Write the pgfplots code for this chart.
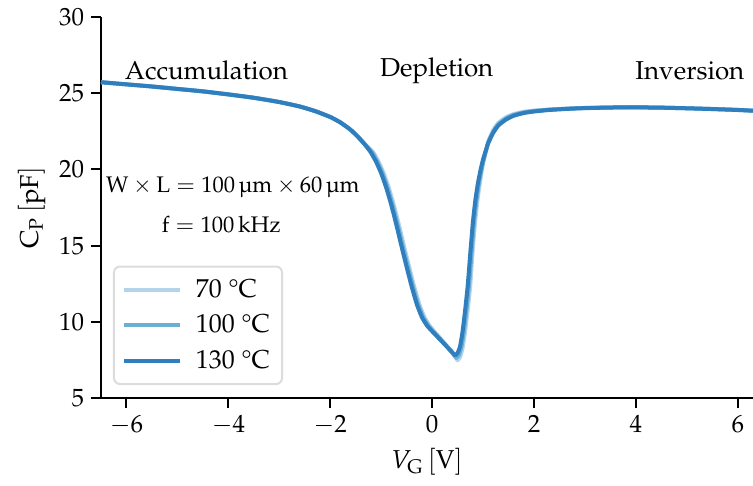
\documentclass[border=0pt]{standalone}
\usepackage[T1]{fontenc}
\usepackage{mathpazo}
\usepackage{textcomp}
\usepackage{pgfplots}
\pgfplotsset{compat=1.18}
\definecolor{c70}{RGB}{180,212,236}
\definecolor{c100}{RGB}{107,174,214}
\definecolor{c130}{RGB}{47,127,190}
\definecolor{legframe}{RGB}{220,220,220}
\newcommand{\fs}{\fontsize{12.5}{15}\selectfont}
\newcommand{\ft}{\fontsize{13}{15.5}\selectfont}
\newcommand{\fa}{\fontsize{11.3}{13.5}\selectfont}
\begin{document}
\begin{tikzpicture}
\begin{axis}[
  name=ax,
  scale only axis, width=326bp, height=190.5bp,
  xmin=-6.5, xmax=6.3, ymin=5, ymax=30,
  axis x line*=bottom, axis y line*=left,
  axis line style={-, line width=1bp, black},
  xtick={-6,-4,...,6}, ytick={5,10,...,30},
  tick align=outside, major tick length=5bp,
  every tick/.style={black, line width=1bp},
  tick label style={font=\fs},
  label style={font=\ft},
  xlabel={$V_\mathrm{G}\,[\mathrm{V}]$},
  ylabel={$\mathrm{C}_\mathrm{P}\,[\mathrm{pF}]$},
  legend cell align=left,
  legend style={font=\ft, at={(0.0184,0.034)}, anchor=south west,
    draw=legframe, line width=1bp, rounded corners=3bp, fill=white,
    inner xsep=4bp, inner ysep=4.5bp, row sep=3.2bp, column sep=5bp},
  legend image code/.code={\draw[#1, line width=2bp] (0bp,0bp) -- (28bp,0bp);},
]
\addplot[c70, line width=2bp, line join=round, smooth, tension=0.3] coordinates {
(-6.5,25.72) (-6.0,25.58) (-5.5,25.44) (-5.0,25.28) (-4.5,25.12) (-4.0,24.92)
(-3.5,24.70) (-3.0,24.42) (-2.6,24.13) (-2.3,23.83) (-2.0,23.44) (-1.8,23.08)
(-1.6,22.6) (-1.45,22.13) (-1.3,21.6) (-1.15,21.1) (-1.05,20.5) (-0.95,19.75)
(-0.85,18.8) (-0.75,17.65) (-0.65,16.35) (-0.55,14.95) (-0.45,13.6) (-0.35,12.3)
(-0.25,11.15) (-0.15,10.3) (-0.05,9.75) (0.05,9.34) (0.15,8.97) (0.25,8.58)
(0.35,8.18) (0.45,7.75) (0.5,7.47) (0.55,7.7) (0.6,8.3) (0.65,9.4)
(0.7,10.8) (0.75,12.4) (0.79,14.4) (0.84,16.4) (0.89,17.95) (0.94,19.15)
(1.0,20.4) (1.1,21.8) (1.2,22.58) (1.3,23.05) (1.45,23.42) (1.6,23.63)
(1.8,23.78) (2.0,23.86) (2.3,23.93) (2.7,24.0) (3.0,24.03) (3.5,24.07)
(4.0,24.08) (4.5,24.06) (5.0,24.02) (5.5,23.97) (6.0,23.91) (6.3,23.86)
};
\addlegendentry{70 \textdegree C}
\addplot[c100, line width=2bp, line join=round, smooth, tension=0.3] coordinates {
(-6.5,25.72) (-6.0,25.58) (-5.5,25.44) (-5.0,25.28) (-4.5,25.12) (-4.0,24.92)
(-3.5,24.70) (-3.0,24.42) (-2.6,24.13) (-2.3,23.83) (-2.0,23.44) (-1.8,23.08)
(-1.6,22.6) (-1.45,22.12) (-1.3,21.57) (-1.175,21.1) (-1.075,20.5) (-0.975,19.75)
(-0.875,18.8) (-0.775,17.65) (-0.675,16.35) (-0.575,14.95) (-0.475,13.6) (-0.375,12.3)
(-0.275,11.15) (-0.175,10.3) (-0.075,9.75) (0.025,9.36) (0.125,9.0) (0.225,8.63)
(0.325,8.25) (0.425,7.85) (0.475,7.63) (0.525,7.82) (0.575,8.35) (0.625,9.4)
(0.675,10.8) (0.725,12.4) (0.775,14.5) (0.82,16.4) (0.87,17.95) (0.92,19.1)
(0.97,19.98) (1.0,20.45) (1.1,21.75) (1.2,22.48) (1.3,22.96) (1.45,23.34)
(1.6,23.57) (1.8,23.74) (2.0,23.83) (2.3,23.92) (2.7,23.99) (3.0,24.03)
(3.5,24.06) (4.0,24.07) (4.5,24.05) (5.0,24.01) (5.5,23.96) (6.0,23.9) (6.3,23.85)
};
\addlegendentry{100 \textdegree C}
\addplot[c130, line width=2bp, line join=round, smooth, tension=0.3] coordinates {
(-6.5,25.72) (-6.0,25.58) (-5.5,25.44) (-5.0,25.28) (-4.5,25.12) (-4.0,24.92)
(-3.5,24.70) (-3.0,24.42) (-2.6,24.13) (-2.3,23.83) (-2.0,23.44) (-1.8,23.08)
(-1.6,22.6) (-1.45,22.12) (-1.3,21.55) (-1.2,21.1) (-1.1,20.5) (-1.0,19.75)
(-0.9,18.8) (-0.8,17.65) (-0.7,16.35) (-0.6,14.95) (-0.5,13.6) (-0.4,12.3)
(-0.3,11.15) (-0.2,10.3) (-0.1,9.75) (0.0,9.38) (0.1,9.03) (0.2,8.68)
(0.3,8.33) (0.4,7.98) (0.45,7.8) (0.5,7.95) (0.55,8.4) (0.6,9.4)
(0.65,10.8) (0.7,12.4) (0.75,14.5) (0.8,16.5) (0.85,18.0) (0.9,19.1)
(0.95,19.95) (1.0,20.65) (1.1,21.7) (1.2,22.4) (1.3,22.88) (1.45,23.27)
(1.6,23.52) (1.8,23.7) (2.0,23.8) (2.3,23.9) (2.7,23.98) (3.0,24.02)
(3.5,24.06) (4.0,24.07) (4.5,24.05) (5.0,24.01) (5.5,23.96) (6.0,23.9) (6.3,23.85)
};
\addlegendentry{130 \textdegree C}
\node[font=\ft] at (axis cs:-4.43,26.5) {Accumulation};
\node[font=\ft] at (axis cs:0.09,26.5) {Depletion};
\node[font=\ft] at (axis cs:5.06,26.5) {Inversion};
\node[font=\fa] at (axis cs:-3.91,18.85) {$\mathrm{W}\times\mathrm{L}=100\,\mbox{\textmu m}\times60\,\mbox{\textmu m}$};
\node[font=\fa] at (axis cs:-4.14,16.4) {$\mathrm{f}=100\,\mathrm{kHz}$};
\end{axis}
\pgfresetboundingbox
\useasboundingbox ([xshift=-50.5bp,yshift=-44bp]ax.south west) rectangle ([yshift=8.5bp]ax.north east);
\end{tikzpicture}
\end{document}
